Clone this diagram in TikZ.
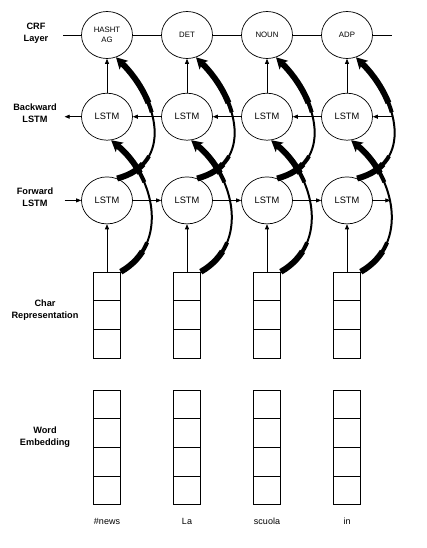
\documentclass[tikz,border=0pt]{standalone}
\usepackage{fontspec}
\setmainfont{Liberation Sans}
\usepackage{tikz}
\usetikzlibrary{shapes.geometric, shapes.multipart, arrows.meta, positioning}
\tikzstyle{tag} = [ellipse, draw, fill=white, line width=0.7pt, minimum width=51pt,
     minimum height=47pt, inner sep=0pt, align=center, font=\fontsize{7.8}{10.5}\selectfont]
\tikzstyle{lstm} = [tag, font=\fontsize{9.3}{11}\selectfont]
\tikzstyle{cellbox} = [rectangle split, draw, line width=0.7pt, inner sep=0pt, minimum width=27pt,
     rectangle split empty part height=28pt, rectangle split empty part depth=0pt,
     rectangle split empty part width=1pt]
\tikzstyle{lbl} = [align=center, font=\bfseries\fontsize{9.2}{11.5}\selectfont]
\tikzstyle{word} = [inner sep=0pt, text height=7pt, text depth=2pt, font=\fontsize{9}{11}\selectfont]
\tikzstyle{thinline} = [line width=0.7pt]
\tikzstyle{arrow} = [line width=0.7pt, -{Triangle[length=5pt,width=4pt]}]
\tikzstyle{fat} = [line width=2pt, -{Stealth[length=11pt,width=12pt,inset=2.5pt]}]
% thick ends, thin middle
\tikzstyle{taperup} = [fat,
     postaction={draw, -, line width=4pt, shorten >=9pt, dash pattern=on 40pt off 45pt on 100pt},
     postaction={draw, -, line width=6pt, shorten >=9pt, dash pattern=on 30pt off 65pt on 100pt}]
\tikzstyle{taperlong} = [fat,
     postaction={draw, -, line width=4pt, shorten >=9pt, dash pattern=on 40pt off 62pt on 100pt},
     postaction={draw, -, line width=6pt, shorten >=9pt, dash pattern=on 30pt off 82pt on 100pt}]

\begin{document}
\begin{tikzpicture}[x=1pt, y=1pt]
     \useasboundingbox (0,0) rectangle (427,-548);
     % Columns
     \foreach \i/\lab/\wrd in {1/{HASHT\\AG}/\#news, 2/DET/La, 3/NOUN/scuola, 4/ADP/in} {
          \node [tag] (c\i) at ({80*\i+27},-35) {\lab};
          \node [lstm, below=34pt of c\i] (b\i) {LSTM};
          \node [lstm, below=36pt of b\i] (f\i) {LSTM};
          \node [cellbox, rectangle split parts=3, below=47.5pt of f\i] (ch\i) {};
          \node [cellbox, rectangle split parts=4, below=31pt of ch\i] (w\i) {};
          \node [word, below=12.5pt of w\i] (t\i) {\wrd};
          \draw [arrow] (ch\i) -- (f\i);
          \draw [arrow] (b\i) -- (c\i);
          \draw [taperlong] (ch\i.north east) to[out=30, in=-40, looseness=1.1] (b\i.-80);
          \draw [taperup] (f\i.65) to[out=15, in=-45, looseness=1.25] (c\i.-68);
     }
     % Rows
     \foreach \a/\b in {1/2, 2/3, 3/4} {
          \draw [thinline] (c\a) -- (c\b);
          \draw [arrow] (b\b) -- (b\a);
          \draw [arrow] (f\a) -- (f\b);
     }
     \coordinate [left=18pt of c1] (cL);
     \coordinate [left=16.5pt of b1] (bL);
     \coordinate [left=16.5pt of f1] (fL);
     \coordinate [right=19.5pt of c4] (cR);
     \coordinate [right=19.5pt of b4] (bR);
     \coordinate [right=17.5pt of f4] (fR);
     \draw [thinline] (cL) -- (c1);
     \draw [thinline] (c4) -- (cR);
     \draw [arrow] (b1) -- (bL);
     \draw [arrow] (bR) -- (b4);
     \draw [arrow] (fL) -- (f1);
     \draw [arrow] (f4) -- (fR);
     % Labels
     \node [lbl] (crf) at (36,-33) {CRF\\Layer};
     \node [lbl] (bwd) at (35,-113) {Backward\\LSTM};
     \node [lbl] (fwd) at (35,-197) {Forward\\LSTM};
     \node [lbl] (chr) at (45,-310) {Char\\Representation};
     \node [lbl] (emb) at (45,-437) {Word\\Embedding};
\end{tikzpicture}
\end{document}
